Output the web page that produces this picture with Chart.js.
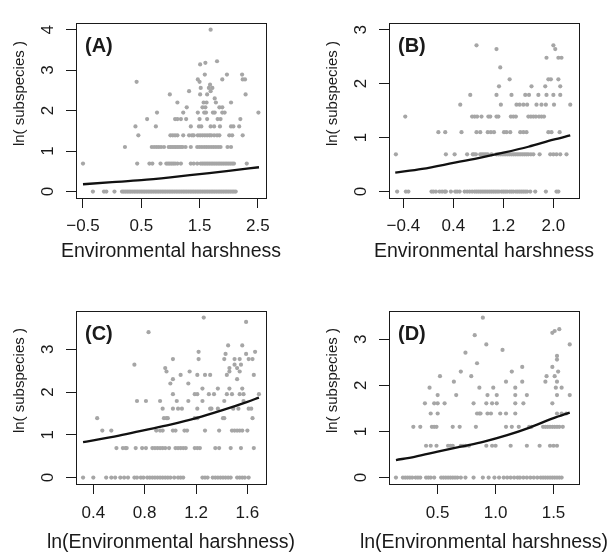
<!DOCTYPE html>
<html>
<head>
<meta charset="utf-8">
<script src="https://cdn.jsdelivr.net/npm/chart.js@4/dist/chart.umd.min.js"></script>
<style>
  body { margin: 0; background: #fff; }
  #wrap { position: relative; width: 611px; height: 555px; }
  canvas { position: absolute; }
</style>
</head>
<body>
<div id="wrap">
  <canvas id="pA" width="313" height="288" style="left:0;top:0"></canvas>
  <canvas id="pB" width="298" height="288" style="left:313px;top:0"></canvas>
  <canvas id="pC" width="313" height="267" style="left:0;top:288px"></canvas>
  <canvas id="pD" width="298" height="267" style="left:313px;top:288px"></canvas>
</div>
<script>
// rows of points: [ln(subspecies), [x values]]
const rowsA = [
  [0, [-0.33,-0.14,-0.10,0.04,0.17,0.20,0.23,0.26,0.29,0.32,0.35,0.38,0.41,0.44,0.47,0.50,0.53,0.56,0.59,0.62,0.65,0.68,0.71,0.74,0.77,0.80,0.83,0.86,0.89,0.92,0.95,0.98,1.01,1.04,1.07,1.10,1.13,1.16,1.19,1.22,1.25,1.28,1.31,1.34,1.37,1.40,1.43,1.46,1.49,1.52,1.55,1.58,1.61,1.64,1.67,1.70,1.73,1.76,1.79,1.82,1.85,1.88,1.91,1.94,1.97,2.00,2.03,2.06,2.09,2.12]],
  [0.69, [-0.50,0.43,0.64,0.69,0.83,0.93,0.96,0.99,1.02,1.05,1.08,1.12,1.18,1.35,1.40,1.46,1.52,1.55,1.58,1.61,1.64,1.67,1.70,1.73,1.76,1.79,1.82,1.85,1.88,1.91,1.94,1.97,2.00,2.03,2.06,2.09,2.31]],
  [1.10, [0.22,0.68,0.72,0.76,0.80,0.84,0.89,0.97,1.00,1.03,1.06,1.09,1.12,1.15,1.18,1.21,1.26,1.35,1.46,1.50,1.54,1.58,1.62,1.66,1.70,1.74,1.78,1.82,1.86,1.98,2.04]],
  [1.39, [0.45,1.00,1.04,1.08,1.12,1.22,1.32,1.37,1.40,1.47,1.51,1.55,1.59,1.63,1.67,1.70,1.75,1.80,1.84,2.01,2.06,2.24]],
  [1.61, [0.40,0.75,1.35,1.49,1.53,1.69,1.75,1.85,2.04,2.08,2.18]],
  [1.79, [0.60,1.08,1.12,1.18,1.27,1.50,1.63,1.81,1.86,2.20]],
  [1.95, [0.77,1.22,1.47,1.58,1.61,1.73,1.76,1.89,1.93,2.51]],
  [2.08, [1.28,1.55,1.60,1.84,1.89]],
  [2.20, [1.12,1.57,1.62,1.78,2.04]],
  [2.30, [1.76]],
  [2.40, [0.99,1.51,1.63,2.29]],
  [2.48, [1.32,1.69]],
  [2.56, [1.52,1.66,1.72]],
  [2.64, [1.68]],
  [2.71, [0.42,1.50]],
  [2.77, [1.47,1.89,2.24,2.28]],
  [2.89, [1.59,1.97,2.23]],
  [3.14, [1.51]],
  [3.18, [1.60]],
  [3.22, [1.80]],
  [4.00, [1.69]]
];
const rowsB = [
  [0, [-0.50,-0.36,-0.32,0.05,0.08,0.12,0.18,0.22,0.26,0.28,0.36,0.43,0.46,0.50,0.58,0.62,0.66,0.70,0.74,0.77,0.80,0.83,0.86,0.89,0.92,0.95,0.98,1.01,1.04,1.07,1.10,1.13,1.17,1.20,1.23,1.26,1.30,1.33,1.36,1.40,1.43,1.46,1.49,1.52,1.55,1.58,1.63,1.71,1.88,2.05,2.08]],
  [0.69, [-0.52,0.28,0.42,0.62,0.71,0.73,0.76,0.83,0.86,0.89,0.92,0.95,1.01,1.09,1.12,1.15,1.18,1.21,1.24,1.27,1.30,1.33,1.36,1.39,1.42,1.45,1.48,1.51,1.54,1.57,1.60,1.64,1.68,1.78,1.95,2.00,2.05,2.11,2.21]],
  [1.10, [0.16,0.27,0.53,0.77,0.83,0.95,1.00,1.05,1.21,1.25,1.31,1.47,1.52,1.57,1.92,1.97,2.10]],
  [1.39, [-0.37,0.70,0.74,0.78,0.85,0.96,0.99,1.09,1.12,1.32,1.36,1.40,1.60,1.64,1.68,1.72,1.77,1.81,1.85]],
  [1.61, [0.51,1.16,1.41,1.46,1.52,1.58,1.73,1.81,1.88,2.01,2.27]],
  [1.79, [0.67,1.09,1.33,1.55,1.61,1.76,1.89,2.00,2.11]],
  [1.95, [1.13,1.65,1.87,2.11]],
  [2.08, [1.30,1.92,1.96,2.08]],
  [2.30, [1.15]],
  [2.48, [1.89,2.08,2.13]],
  [2.64, [1.09,2.03]],
  [2.71, [0.77,2.00]]
];
const rowsC = [
  [0, [0.32,0.40,0.50,0.54,0.57,0.61,0.64,0.67,0.72,0.74,0.77,0.79,0.82,0.84,0.86,0.88,0.90,0.92,0.94,0.96,0.98,1.00,1.03,1.06,1.08,1.10,1.25,1.27,1.29,1.33,1.35,1.37,1.39,1.41,1.43,1.45,1.47,1.52,1.54,1.56,1.58,1.61]],
  [0.69, [0.58,0.63,0.65,0.66,0.73,0.78,0.81,0.86,0.88,0.90,0.92,0.94,0.96,0.99,1.04,1.06,1.08,1.10,1.12,1.19,1.21,1.23,1.35,1.38,1.47,1.55,1.65]],
  [1.10, [0.47,0.54,0.89,0.92,0.94,1.02,1.04,1.11,1.13,1.27,1.38,1.48,1.50,1.52,1.54,1.56,1.60]],
  [1.39, [0.43,0.95,0.97,0.98,1.19,1.21,1.41,1.42,1.64]],
  [1.61, [0.94,1.02,1.06,1.09,1.21,1.31,1.32,1.37,1.49,1.53,1.61,1.63]],
  [1.79, [0.74,0.81,0.92,1.05,1.14,1.25,1.42,1.57]],
  [1.95, [1.02,1.19,1.21,1.30,1.34,1.44,1.48,1.54,1.57,1.69]],
  [2.08, [1.25,1.37,1.46,1.56]],
  [2.20, [1.00,1.14]],
  [2.30, [1.02,1.52]],
  [2.40, [1.08,1.21,1.27,1.31,1.44,1.65]],
  [2.48, [0.97,1.15,1.46,1.54]],
  [2.56, [0.96,1.46,1.52]],
  [2.64, [0.72,1.50,1.55]],
  [2.77, [1.02,1.22,1.42,1.50,1.54,1.61,1.64]],
  [2.89, [1.43,1.59]],
  [2.94, [1.22,1.66]],
  [3.09, [1.45,1.56]],
  [3.40, [0.83]],
  [3.64, [1.59]],
  [3.74, [1.26]]
];
const rowsD = [
  [0, [0.14,0.20,0.22,0.24,0.26,0.28,0.31,0.33,0.35,0.40,0.42,0.44,0.47,0.53,0.55,0.57,0.59,0.61,0.63,0.65,0.67,0.70,0.74,0.81,0.89,0.94,0.99,1.03,1.07,1.10,1.13,1.16,1.19,1.21,1.24,1.27,1.30,1.33,1.36,1.39,1.41,1.43,1.45,1.47,1.49,1.51,1.53,1.55,1.57]],
  [0.69, [0.40,0.44,0.49,0.59,0.61,0.63,0.70,0.72,0.74,0.77,0.92,0.97,1.00,1.13,1.27,1.38,1.47,1.50,1.53]],
  [1.10, [0.29,0.35,0.45,0.47,0.49,0.63,0.69,0.83,1.09,1.14,1.20,1.29,1.31,1.41,1.43,1.45,1.47,1.49,1.51,1.53,1.55,1.58]],
  [1.39, [0.44,0.50,0.84,0.86,0.87,0.93,0.96,1.04,1.09,1.17,1.53,1.57,1.61]],
  [1.61, [0.39,0.47,0.50,0.56,0.81,0.92,0.97,1.01,1.17,1.24,1.49]],
  [1.79, [0.50,0.66,0.93,1.01,1.17,1.27,1.53,1.64]],
  [1.95, [0.43,0.86,0.98,1.17,1.52,1.57]],
  [2.08, [0.64,1.09,1.23,1.43,1.53]],
  [2.20, [0.52,0.79,1.44,1.51]],
  [2.30, [0.70,1.14,1.54]],
  [2.40, [1.23,1.49]],
  [2.48, [0.84]],
  [2.56, [1.53]],
  [2.64, [1.53]],
  [2.71, [0.74]],
  [2.77, [1.06]],
  [2.89, [0.92,1.64]],
  [3.09, [0.82]],
  [3.14, [1.49]],
  [3.18, [1.51]],
  [3.22, [1.55]],
  [3.47, [0.89]]
];

// fitted curves
const fitXA = [-0.5, 0, 0.5, 1.0, 1.5, 2.0, 2.52];
const fitYA = [0.18, 0.23, 0.28, 0.35, 0.43, 0.51, 0.60];
const fitXB = [-0.53, -0.1, 0.4, 0.8, 1.2, 1.6, 2.0, 2.27];
const fitYB = [0.35, 0.42, 0.53, 0.62, 0.72, 0.83, 0.96, 1.04];
const fitXC = [0.32, 0.4, 0.6, 0.8, 1.0, 1.2, 1.4, 1.6, 1.69];
const fitYC = [0.83, 0.87, 0.98, 1.11, 1.24, 1.39, 1.57, 1.77, 1.87];
const fitXD = [0.14, 0.3, 0.5, 0.7, 0.9, 1.1, 1.3, 1.5, 1.64];
const fitYD = [0.38, 0.45, 0.56, 0.67, 0.78, 0.92, 1.09, 1.29, 1.41];

// tick positions
const xTicksA = [-0.5, 0.5, 1.5, 2.5];
const xTicksB = [-0.4, 0.4, 1.2, 2.0];
const xTicksC = [0.4, 0.8, 1.2, 1.6];
const xTicksD = [0.5, 1.0, 1.5];
const yTicksA = [0, 1, 2, 3, 4];
const yTicksB = [0, 1, 2, 3];
const yTicksC = [0, 1, 2, 3];
const yTicksD = [0, 1, 2, 3];

const FONT = "'Liberation Sans', Arial, Helvetica, sans-serif";
const INK = '#1a1a1a';
const Y_TITLE = 'ln( subspecies )';

// frame around the plot, panel letter and both axis titles (R-style placement)
const boxPlugin = {
  id: 'box',
  afterDraw(chart) {
    const a = chart.chartArea, ctx = chart.ctx;
    const o = chart.options.plugins.box;
    ctx.save();
    ctx.strokeStyle = INK;
    ctx.lineWidth = 1;
    ctx.strokeRect(Math.round(a.left) + 0.5, Math.round(a.top) + 0.5,
      Math.round(a.right - a.left), Math.round(a.bottom - a.top));
    ctx.fillStyle = INK;
    ctx.textBaseline = 'middle';
    ctx.font = 'bold 20px ' + FONT;
    ctx.fillText(o.letter, a.left + 9, a.top + 23);
    ctx.textAlign = 'center';
    ctx.font = '19.5px ' + FONT;
    ctx.fillText(o.xTitle, (a.left + a.right) / 2, o.titleY);
    ctx.font = '15px ' + FONT;
    ctx.translate(a.left - 56, (a.top + a.bottom) / 2 - 17);
    ctx.rotate(-Math.PI / 2);
    ctx.fillText(Y_TITLE, 0, 0);
    ctx.restore();
  }
};

function fmtX(v) {
  return (v < 0 ? '\u2212' : '') + Math.abs(v).toFixed(1);
}

function panel(id, letter, rows, fx, fy, xTicks, yTicks, xr, yr, xTitle, top) {
  const pts = rows.flatMap(([y, xs]) => xs.map(x => ({ x, y })));
  const fit = fx.map((x, i) => ({ x, y: fy[i] }));
  const cv = document.getElementById(id);
  new Chart(cv, {
    type: 'scatter',
    data: {
      datasets: [
        { data: fit, showLine: true, borderColor: '#111', borderWidth: 2.3,
          pointRadius: 0, cubicInterpolationMode: 'monotone', order: 0 },
        { data: pts, pointRadius: 2.1, pointBackgroundColor: '#a6a6a6',
          pointBorderWidth: 0, order: 1 }
      ]
    },
    options: {
      responsive: false,
      animation: false,
      layout: { padding: { top: 10, right: cv.width - 76 - 190, left: 0, bottom: 0 } },
      plugins: { legend: { display: false }, tooltip: { enabled: false },
                 box: { letter, xTitle, titleY: top ? 252 : 255 } },
      scales: {
        x: {
          type: 'linear', min: xr[0], max: xr[1],
          afterBuildTicks: s => { s.ticks = xTicks.map(v => ({ value: v })); },
          afterFit: s => { s.height = top ? 90 : 71; },
          grid: { drawOnChartArea: false, drawTicks: true, tickLength: 10, tickColor: INK, color: INK },
          border: { display: true, color: INK, width: 1 },
          ticks: { color: INK, font: { size: 17, family: FONT }, padding: top ? 8 : 9,
                   maxRotation: 0, autoSkip: false, callback: v => fmtX(v) },
          title: { display: false }
        },
        y: {
          type: 'linear', min: yr[0], max: yr[1],
          afterBuildTicks: s => { s.ticks = yTicks.map(v => ({ value: v })); },
          afterFit: s => { s.width = 76; },
          grid: { drawOnChartArea: false, drawTicks: true, tickLength: 10, tickColor: INK, color: INK },
          border: { display: true, color: INK, width: 1 },
          ticks: { color: INK, font: { size: 17, family: FONT }, padding: 13,
                   minRotation: 90, maxRotation: 90, crossAlign: 'center',
                   autoSkip: false, callback: v => String(v) },
          title: { display: false }
        }
      }
    },
    plugins: [boxPlugin]
  });
}

panel('pA', '(A)', rowsA, fitXA, fitYA, xTicksA, yTicksA, [-0.62, 2.64], [-0.16, 4.16], 'Environmental harshness', true);
panel('pB', '(B)', rowsB, fitXB, fitYB, xTicksB, yTicksB, [-0.63, 2.41], [-0.12, 3.12], 'Environmental harshness', true);
panel('pC', '(C)', rowsC, fitXC, fitYC, xTicksC, yTicksC, [0.265, 1.745], [-0.15, 3.89], 'ln(Environmental harshness)', false);
panel('pD', '(D)', rowsD, fitXD, fitYD, xTicksD, yTicksD, [0.08, 1.72], [-0.14, 3.61], 'ln(Environmental harshness)', false);
</script>
</body>
</html>
